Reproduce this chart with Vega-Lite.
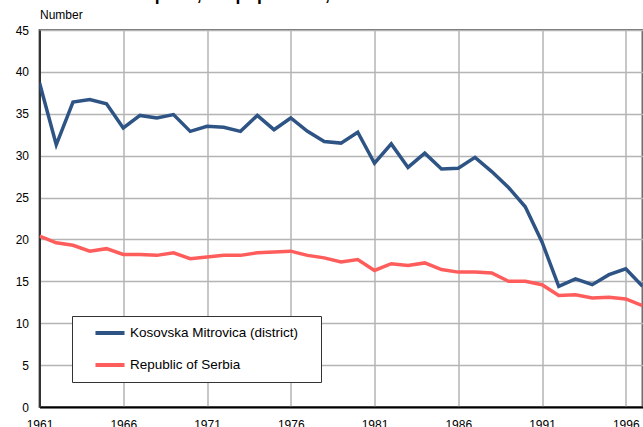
{
  "$schema": "https://vega.github.io/schema/vega-lite/v6.json",
  "autosize": "none",
  "width": 603,
  "height": 377,
  "padding": {"left": 39.5, "top": 30, "right": 0.5, "bottom": 20},
  "background": "white",
  "title": {"text": "Live births per 1,000 population, 1961-1997", "anchor": "start", "frame": "group", "dx": 22, "dy": 13, "offset": 4, "baseline": "alphabetic", "font": "Liberation Sans", "fontSize": 17.5, "fontWeight": "bold", "color": "#000000"},
  "config": {
    "font": "Liberation Sans",
    "view": {"stroke": "#6e6e6e", "strokeWidth": 2}
  },
  "data": {"values": [
    {"year": 1961, "series": "Kosovska Mitrovica (district)", "value": 38.7},
    {"year": 1962, "series": "Kosovska Mitrovica (district)", "value": 31.3},
    {"year": 1963, "series": "Kosovska Mitrovica (district)", "value": 36.4},
    {"year": 1964, "series": "Kosovska Mitrovica (district)", "value": 36.7},
    {"year": 1965, "series": "Kosovska Mitrovica (district)", "value": 36.2},
    {"year": 1966, "series": "Kosovska Mitrovica (district)", "value": 33.3},
    {"year": 1967, "series": "Kosovska Mitrovica (district)", "value": 34.8},
    {"year": 1968, "series": "Kosovska Mitrovica (district)", "value": 34.5},
    {"year": 1969, "series": "Kosovska Mitrovica (district)", "value": 34.9},
    {"year": 1970, "series": "Kosovska Mitrovica (district)", "value": 32.9},
    {"year": 1971, "series": "Kosovska Mitrovica (district)", "value": 33.5},
    {"year": 1972, "series": "Kosovska Mitrovica (district)", "value": 33.4},
    {"year": 1973, "series": "Kosovska Mitrovica (district)", "value": 32.9},
    {"year": 1974, "series": "Kosovska Mitrovica (district)", "value": 34.8},
    {"year": 1975, "series": "Kosovska Mitrovica (district)", "value": 33.1},
    {"year": 1976, "series": "Kosovska Mitrovica (district)", "value": 34.5},
    {"year": 1977, "series": "Kosovska Mitrovica (district)", "value": 32.9},
    {"year": 1978, "series": "Kosovska Mitrovica (district)", "value": 31.7},
    {"year": 1979, "series": "Kosovska Mitrovica (district)", "value": 31.5},
    {"year": 1980, "series": "Kosovska Mitrovica (district)", "value": 32.8},
    {"year": 1981, "series": "Kosovska Mitrovica (district)", "value": 29.1},
    {"year": 1982, "series": "Kosovska Mitrovica (district)", "value": 31.4},
    {"year": 1983, "series": "Kosovska Mitrovica (district)", "value": 28.6},
    {"year": 1984, "series": "Kosovska Mitrovica (district)", "value": 30.3},
    {"year": 1985, "series": "Kosovska Mitrovica (district)", "value": 28.4},
    {"year": 1986, "series": "Kosovska Mitrovica (district)", "value": 28.5},
    {"year": 1987, "series": "Kosovska Mitrovica (district)", "value": 29.8},
    {"year": 1988, "series": "Kosovska Mitrovica (district)", "value": 28.1},
    {"year": 1989, "series": "Kosovska Mitrovica (district)", "value": 26.2},
    {"year": 1990, "series": "Kosovska Mitrovica (district)", "value": 23.9},
    {"year": 1991, "series": "Kosovska Mitrovica (district)", "value": 19.7},
    {"year": 1992, "series": "Kosovska Mitrovica (district)", "value": 14.4},
    {"year": 1993, "series": "Kosovska Mitrovica (district)", "value": 15.3},
    {"year": 1994, "series": "Kosovska Mitrovica (district)", "value": 14.6},
    {"year": 1995, "series": "Kosovska Mitrovica (district)", "value": 15.8},
    {"year": 1996, "series": "Kosovska Mitrovica (district)", "value": 16.5},
    {"year": 1997, "series": "Kosovska Mitrovica (district)", "value": 14.4},
    {"year": 1961, "series": "Republic of Serbia", "value": 20.4},
    {"year": 1962, "series": "Republic of Serbia", "value": 19.6},
    {"year": 1963, "series": "Republic of Serbia", "value": 19.3},
    {"year": 1964, "series": "Republic of Serbia", "value": 18.6},
    {"year": 1965, "series": "Republic of Serbia", "value": 18.9},
    {"year": 1966, "series": "Republic of Serbia", "value": 18.2},
    {"year": 1967, "series": "Republic of Serbia", "value": 18.2},
    {"year": 1968, "series": "Republic of Serbia", "value": 18.1},
    {"year": 1969, "series": "Republic of Serbia", "value": 18.4},
    {"year": 1970, "series": "Republic of Serbia", "value": 17.7},
    {"year": 1971, "series": "Republic of Serbia", "value": 17.9},
    {"year": 1972, "series": "Republic of Serbia", "value": 18.1},
    {"year": 1973, "series": "Republic of Serbia", "value": 18.1},
    {"year": 1974, "series": "Republic of Serbia", "value": 18.4},
    {"year": 1975, "series": "Republic of Serbia", "value": 18.5},
    {"year": 1976, "series": "Republic of Serbia", "value": 18.6},
    {"year": 1977, "series": "Republic of Serbia", "value": 18.1},
    {"year": 1978, "series": "Republic of Serbia", "value": 17.8},
    {"year": 1979, "series": "Republic of Serbia", "value": 17.3},
    {"year": 1980, "series": "Republic of Serbia", "value": 17.6},
    {"year": 1981, "series": "Republic of Serbia", "value": 16.3},
    {"year": 1982, "series": "Republic of Serbia", "value": 17.1},
    {"year": 1983, "series": "Republic of Serbia", "value": 16.9},
    {"year": 1984, "series": "Republic of Serbia", "value": 17.2},
    {"year": 1985, "series": "Republic of Serbia", "value": 16.4},
    {"year": 1986, "series": "Republic of Serbia", "value": 16.1},
    {"year": 1987, "series": "Republic of Serbia", "value": 16.1},
    {"year": 1988, "series": "Republic of Serbia", "value": 16.0},
    {"year": 1989, "series": "Republic of Serbia", "value": 15.0},
    {"year": 1990, "series": "Republic of Serbia", "value": 15.0},
    {"year": 1991, "series": "Republic of Serbia", "value": 14.6},
    {"year": 1992, "series": "Republic of Serbia", "value": 13.3},
    {"year": 1993, "series": "Republic of Serbia", "value": 13.4},
    {"year": 1994, "series": "Republic of Serbia", "value": 13.0},
    {"year": 1995, "series": "Republic of Serbia", "value": 13.1},
    {"year": 1996, "series": "Republic of Serbia", "value": 12.9},
    {"year": 1997, "series": "Republic of Serbia", "value": 12.1}
  ]},
  "mark": {"type": "line", "strokeWidth": 3.5, "strokeJoin": "miter", "clip": true},
  "encoding": {
    "x": {
      "field": "year", "type": "quantitative",
      "scale": {"domain": [1961, 1997], "nice": false, "zero": false},
      "axis": {
        "title": null,
        "values": [1961, 1966, 1971, 1976, 1981, 1986, 1991, 1996],
        "format": "d",
        "labelFlush": false,
        "labelFont": "Liberation Sans",
        "labelFontSize": 12,
        "labelColor": "#000000",
        "labelPadding": 12,
        "ticks": false,
        "domainColor": "#000000",
        "domainWidth": 2,
        "gridColor": "#b4b4b4",
        "gridWidth": 1.5
      }
    },
    "y": {
      "field": "value", "type": "quantitative",
      "scale": {"domain": [0, 45], "nice": false},
      "axis": {
        "title": "Number",
        "titleAngle": 0,
        "titleX": 0,
        "titleY": -16,
        "titleAlign": "left",
        "titleBaseline": "middle",
        "titleFont": "Liberation Sans",
        "titleFontSize": 12,
        "titleFontWeight": "normal",
        "titleColor": "#000000",
        "values": [0, 5, 10, 15, 20, 25, 30, 35, 40, 45],
        "labelFont": "Liberation Sans",
        "labelFontSize": 12,
        "labelColor": "#000000",
        "labelPadding": 11,
        "ticks": false,
        "domainColor": "#333333",
        "domainWidth": 2,
        "gridColor": "#b4b4b4",
        "gridWidth": 1.5
      }
    },
    "color": {
      "field": "series", "type": "nominal",
      "scale": {"domain": ["Kosovska Mitrovica (district)", "Republic of Serbia"], "range": ["#2e5485", "#ff5c5c"]},
      "legend": {
        "title": null,
        "orient": "none",
        "legendX": 32.5,
        "legendY": 286,
        "direction": "vertical",
        "symbolType": "M-2.5,0H2.5",
        "symbolSize": 135,
        "symbolStrokeWidth": 4,
        "symbolOffset": 21,
        "labelFont": "Liberation Sans",
        "labelFontSize": 13.5,
        "labelColor": "#000000",
        "labelOffset": 12,
        "labelLimit": 400,
        "labelExpr": "datum.label + '\u2002\u2002\u200b'",
        "rowPadding": 16,
        "padding": 9,
        "fillColor": "white",
        "strokeColor": "#333333",
        "cornerRadius": 0
      }
    }
  }
}
